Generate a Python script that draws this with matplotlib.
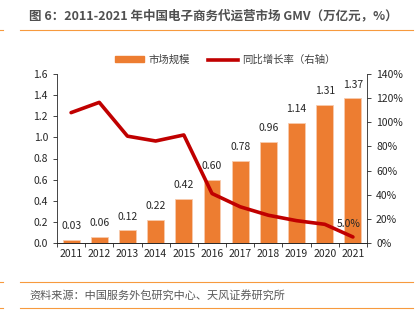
import matplotlib.pyplot as plt
import numpy as np
from matplotlib.lines import Line2D

plt.rcParams['font.family'] = ['Noto Sans CJK SC', 'DejaVu Sans']

years = ['2011', '2012', '2013', '2014', '2015', '2016', '2017', '2018', '2019', '2020', '2021']
gmv = [0.03, 0.06, 0.12, 0.22, 0.42, 0.60, 0.78, 0.96, 1.14, 1.31, 1.37]
growth = [108, 116.5, 88.5, 84.5, 89.5, 41, 30, 23, 18.5, 15.5, 5.0]

bar_color = '#ED7D31'
line_color = '#C00000'
orange = '#F79A3E'

fig = plt.figure(figsize=(4.17, 3.24), dpi=100)
ax = fig.add_axes([57/417, 1 - 243/324, 310/417, 169/324])
ax2 = ax.twinx()

x = np.arange(len(years))
bars = ax.bar(x, gmv, width=0.6, color=bar_color, edgecolor='#F8CBAD', linewidth=0.6, zorder=2)
for xi, v in zip(x, gmv):
    ax.annotate(f'{v:.2f}', (xi, v), xytext=(0, 6), textcoords='offset points',
                ha='center', va='bottom', fontsize=7.5, color='#262626')

ax2.plot(x, growth, color=line_color, linewidth=2.6, zorder=3, solid_capstyle='round')
ax2.annotate('5.0%', (x[-1], growth[-1]), xytext=(-3, 6), textcoords='offset points',
             ha='center', va='bottom', fontsize=7.5, color='#262626')

ax.set_xlim(-0.5, len(years) - 0.5)
ax.set_ylim(0, 1.6)
ax.set_yticks(np.arange(0, 1.61, 0.2))
ax.set_yticklabels([f'{v:.1f}' for v in np.arange(0, 1.61, 0.2)])
ax2.set_ylim(0, 140)
ax2.set_yticks(np.arange(0, 141, 20))
ax2.set_yticklabels([f'{v}%' for v in range(0, 141, 20)])

ax.set_xticks(x)
ax.set_xticklabels(years)
ax.set_xticks(np.arange(-0.5, len(years), 1), minor=True)
ax.tick_params(axis='x', which='major', length=0, labelsize=7.5, pad=4, colors='#262626')
ax.tick_params(axis='x', which='minor', length=3, color='#262626', width=0.6)
ax.tick_params(axis='y', length=3, width=0.6, labelsize=7.5, colors='#262626')
ax2.tick_params(axis='y', length=3, width=0.6, labelsize=7.5, colors='#262626')

for a in (ax, ax2):
    a.spines['top'].set_visible(False)
    for s in ('left', 'right', 'bottom'):
        a.spines[s].set_linewidth(0.6)
        a.spines[s].set_color('#262626')
ax2.spines['left'].set_visible(False)
ax.spines['right'].set_visible(False)

handles = [plt.Rectangle((0, 0), 1, 1, color=bar_color),
           Line2D([0], [0], color=line_color, linewidth=2.6)]
fig.legend(handles, ['市场规模', '同比增长率（右轴）'], loc='center',
           bbox_to_anchor=(225/417, 1 - 60/324), ncol=2, frameon=False,
           fontsize=7.5, handlelength=2.8, handleheight=0.5, columnspacing=1.8,
           handletextpad=0.4, labelcolor='#404040')

fig.text(29/417, 1 - 16/324, '图 6：2011-2021 年中国电子商务代运营市场 GMV（万亿元，%）',
         fontsize=9, fontweight='bold', color='#505050', va='center', ha='left')
for yy in (30, 282, 308):
    fig.add_artist(Line2D([20/417, 413/417], [1 - yy/324, 1 - yy/324], color=orange, linewidth=0.8))
    fig.add_artist(Line2D([0, 3/417], [1 - yy/324, 1 - yy/324], color=orange, linewidth=0.8))
fig.text(29/417, 1 - 295/324, '资料来源：中国服务外包研究中心、天风证券研究所',
         fontsize=8, color='#595959', va='center', ha='left')

fig.savefig('out.png', dpi=100)
